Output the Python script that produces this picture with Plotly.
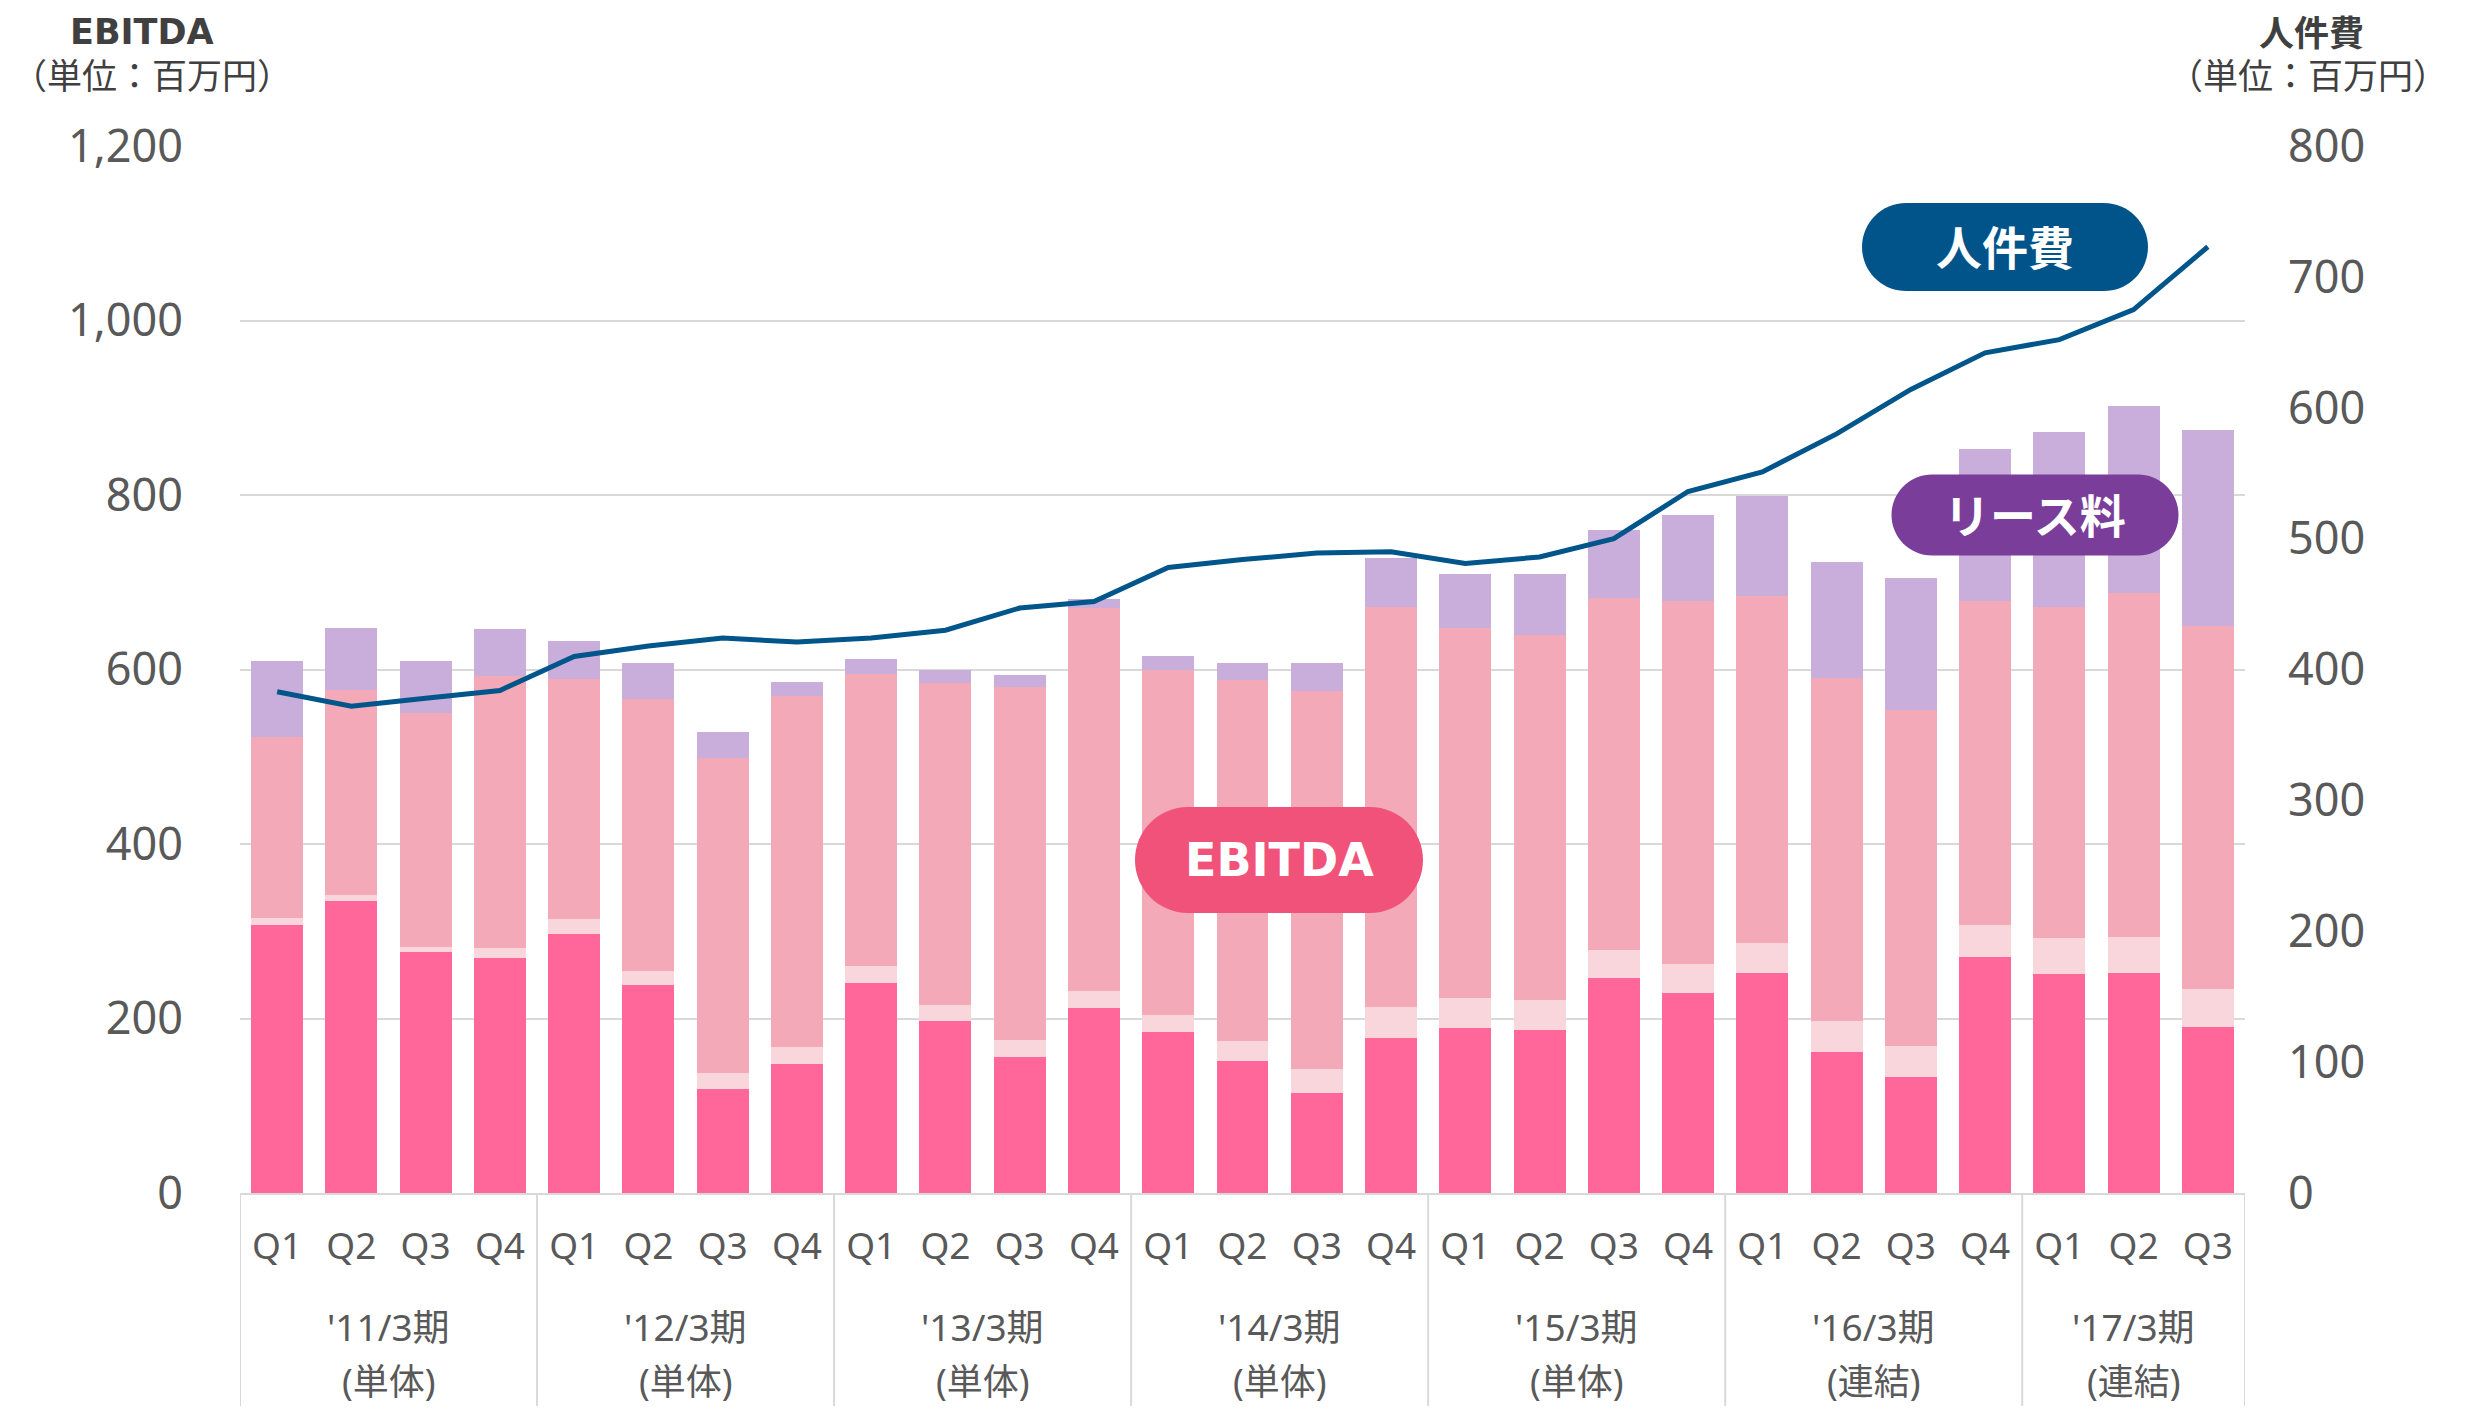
import plotly.graph_objects as go

# ---------------- data ----------------
years = ["'11/3期", "'12/3期", "'13/3期", "'14/3期", "'15/3期", "'16/3期", "'17/3期"]
scopes = ["(単体)", "(単体)", "(単体)", "(単体)", "(単体)", "(連結)", "(連結)"]
quarters_per_year = [4, 4, 4, 4, 4, 4, 3]
quarter_names = ["Q1", "Q2", "Q3", "Q4"]

ebitda = [307, 335, 276, 269, 297, 238, 119, 148, 241, 197, 156, 212, 184, 151,
          115, 178, 189, 187, 246, 229, 252, 162, 133, 270, 251, 252, 190]
seg_light = [8, 7, 6, 12, 17, 16, 19, 19, 19, 18, 19, 19, 20, 23,
             27, 35, 35, 34, 33, 33, 34, 35, 36, 37, 41, 41, 44]
seg_mid = [208, 235, 268, 311, 275, 312, 361, 403, 335, 369, 405, 440, 396, 414,
           433, 459, 424, 419, 403, 416, 398, 393, 385, 371, 380, 395, 416]
lease = [87, 71, 60, 54, 44, 42, 29, 16, 17, 15, 14, 10, 16, 19,
         33, 56, 62, 69, 78, 99, 115, 133, 151, 175, 200, 214, 225]
personnel = [383, 372, 378, 384, 410, 418, 424, 421, 424, 430, 447, 452, 478, 484,
             489, 490, 481, 486, 500, 536, 551, 580, 614, 642, 652, 675, 723]

# ---------------- styles ----------------
C_EBITDA = "#FF6699"
C_LIGHT = "#F9D5DC"
C_MID = "#F4A9B8"
C_LEASE = "#C9ADDB"
C_LINE = "#00558A"
C_GRID = "#D9D9D9"
C_TICK = "#595959"
C_TITLE = "#404040"
FONT = "Noto Sans, Noto Sans CJK JP, sans-serif"
FONT_B = "DejaVu Sans, Noto Sans CJK JP, sans-serif"

# page is 2465x1414; the page body has an 8px margin, so the figure is placed at (8, 8)
PAGE_W, PAGE_H, BODY_M = 2465, 1414, 8
PLOT_L, PLOT_R, PLOT_T, PLOT_B = 240, 2245, 146, 1193   # plot area in page pixels
W = PAGE_W - 2 * BODY_M
H = PAGE_H - 2 * BODY_M
ML = PLOT_L - BODY_M
MT = PLOT_T - BODY_M
MR = (BODY_M + W) - PLOT_R
MB = (BODY_M + H) - PLOT_B
PW = PLOT_R - PLOT_L
PH = PLOT_B - PLOT_T


def paper(px, py):
    return (px - PLOT_L) / PW, (PLOT_B - py) / PH


# categories built from the arrays
cats, ticktext, groups = [], [], []
idx = 0
for y, n in zip(years, quarters_per_year):
    start = idx
    for q in quarter_names[:n]:
        cats.append(f"{y} {q}")
        ticktext.append(q)
        idx += 1
    groups.append((start, idx - 1))

fig = go.Figure()
for name, vals, col in [("EBITDA", ebitda, C_EBITDA), ("その他", seg_light, C_LIGHT),
                        ("人件費等", seg_mid, C_MID), ("リース料", lease, C_LEASE)]:
    fig.add_trace(go.Bar(x=cats, y=vals, name=name, marker=dict(color=col, line=dict(width=0))))

fig.add_trace(go.Scatter(x=cats, y=personnel, name="人件費", yaxis="y2", mode="lines",
                         line=dict(color=C_LINE, width=5)))

shapes = []
annotations = []

# dividers and group labels
bounds = [groups[0][0] - 0.5] + [g[1] + 0.5 for g in groups]
for b in bounds:
    shapes.append(dict(type="line", xref="x", yref="paper", x0=b, x1=b, y0=0,
                       y1=paper(0, PAGE_H)[1], line=dict(color=C_GRID, width=2)))
for (s, e), y, sc in zip(groups, years, scopes):
    cx = (s + e) / 2
    annotations.append(dict(x=cx, y=paper(0, 1326)[1], xref="x", yref="paper", text=y,
                            showarrow=False, font=dict(family=FONT, size=37, color=C_TICK),
                            xanchor="center", yanchor="middle"))
    annotations.append(dict(x=cx, y=paper(0, 1381)[1], xref="x", yref="paper", text=sc,
                            showarrow=False, font=dict(family=FONT, size=36, color=C_TICK),
                            xanchor="center", yanchor="middle"))

# axis titles
for px, py, txt, fam, sz in [(142, 32, "<b>EBITDA</b>", FONT_B, 35),
                             (152, 76, "（単位：百万円）", FONT, 35),
                             (2311, 32, "<b>人件費</b>", FONT, 35),
                             (2308, 76, "（単位：百万円）", FONT, 35)]:
    xp, yp = paper(px, py)
    annotations.append(dict(x=xp, y=yp, xref="paper", yref="paper", text=txt, showarrow=False,
                            font=dict(family=fam, size=sz, color=C_TITLE), borderpad=0,
                            xanchor="center", yanchor="middle"))


def pill_path(cx, cy, w, h):
    r = h / 2
    k = 0.5523 * r
    xl, xr = cx - w / 2, cx + w / 2
    x0, x1 = xl + r, xr - r
    top, bot = cy - h / 2, cy + h / 2
    seq = [("M", [(x0, top)]), ("L", [(x1, top)]),
           ("C", [(x1 + k, top), (xr, cy - k), (xr, cy)]),
           ("C", [(xr, cy + k), (x1 + k, bot), (x1, bot)]),
           ("L", [(x0, bot)]),
           ("C", [(x0 - k, bot), (xl, cy + k), (xl, cy)]),
           ("C", [(xl, cy - k), (x0 - k, top), (x0, top)])]
    parts = []
    for cmd, pts in seq:
        coords = " ".join("%.5f,%.5f" % paper(px, py) for px, py in pts)
        parts.append(f"{cmd} {coords}")
    return " ".join(parts) + " Z"


for cx, cy, w, h, col, txt, fam in [(2005, 247, 286, 88, "#00548A", "<b>人件費</b>", FONT),
                                    (2035, 515, 287, 81, "#7A3D99", "<b>リース料</b>", FONT),
                                    (1279, 860, 288, 106, "#F0527A", "<b>EBITDA</b>", FONT_B)]:
    shapes.append(dict(type="path", xref="paper", yref="paper", path=pill_path(cx, cy, w, h),
                       fillcolor=col, line=dict(width=0), layer="above"))
    xp, yp = paper(cx, cy)
    annotations.append(dict(x=xp, y=yp, xref="paper", yref="paper", text=txt, showarrow=False,
                            font=dict(family=fam, size=46, color="white"),
                            xanchor="center", yanchor="middle"))

fig.update_layout(
    width=W, height=H,
    margin=dict(l=ML, r=MR, t=MT, b=MB),
    paper_bgcolor="white", plot_bgcolor="white",
    barmode="stack", bargap=0.3,
    showlegend=False,
    font=dict(family=FONT, color=C_TICK),
    xaxis=dict(type="category", categoryorder="array", categoryarray=cats,
               tickmode="array", tickvals=cats, ticktext=ticktext,
               tickfont=dict(family=FONT, size=37, color=C_TICK),
               showline=True, linecolor=C_GRID, linewidth=2, ticks="",
               showgrid=False, ticklabelstandoff=20, range=[-0.5, len(cats) - 0.5]),
    yaxis=dict(range=[0, 1200], dtick=200, tickformat=",", showgrid=True, gridcolor=C_GRID,
               gridwidth=1.5, zeroline=False, showline=False, ticks="",
               tickfont=dict(family=FONT, size=45, color=C_TICK), ticklabelstandoff=56),
    yaxis2=dict(range=[0, 800], dtick=100, overlaying="y", side="right", showgrid=False,
                zeroline=False, showline=False, ticks="",
                tickfont=dict(family=FONT, size=45, color=C_TICK), ticklabelstandoff=42),
    shapes=shapes,
    annotations=annotations,
)

fig.write_html("out.html")
